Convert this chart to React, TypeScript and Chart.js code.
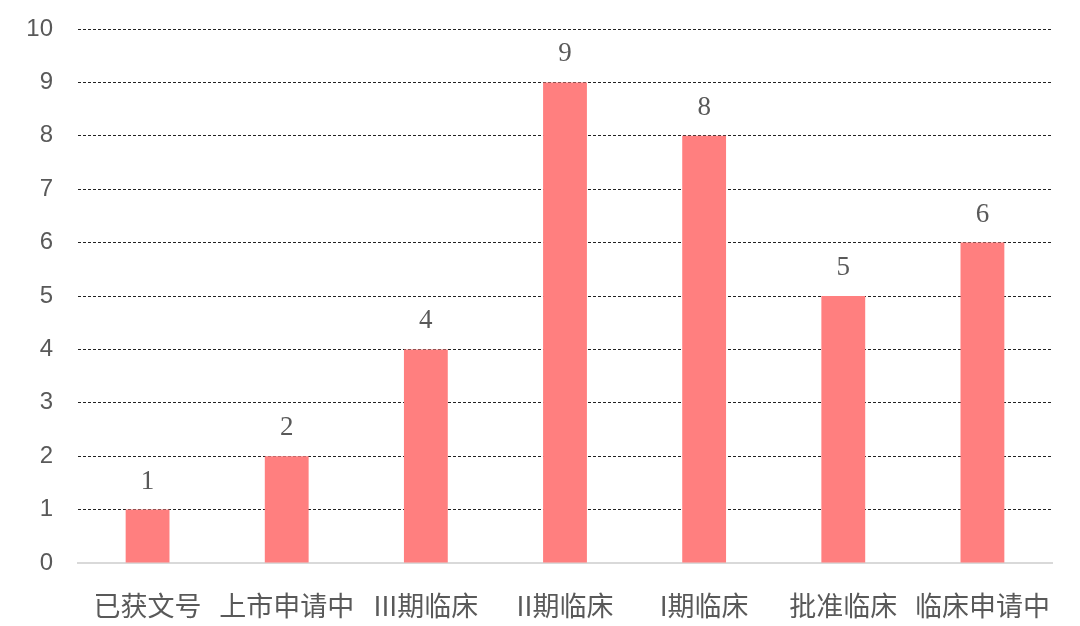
import React, { useRef, useEffect } from 'react';
import Chart from 'chart.js/auto';

const categories = ['已获文号', '上市申请中', 'III期临床', 'II期临床', 'I期临床', '批准临床', '临床申请中'];
const counts = [1, 2, 4, 9, 8, 5, 6];
const yTicks = [0, 1, 2, 3, 4, 5, 6, 7, 8, 9, 10];

const TEXT = '#595959';

// draws the value above each bar
const valueLabels = {
  id: 'valueLabels',
  afterDatasetsDraw(chart: any) {
    const ctx = chart.ctx;
    const meta = chart.getDatasetMeta(0);
    ctx.save();
    ctx.fillStyle = TEXT;
    ctx.font = '27px "Liberation Serif", serif';
    ctx.textAlign = 'center';
    ctx.textBaseline = 'alphabetic';
    meta.data.forEach((bar: any, i: number) => {
      ctx.fillText(String(counts[i]), bar.x, bar.y - 21);
    });
    ctx.restore();
  },
};

const App: React.FC = () => {
  const canvasRef = useRef<HTMLCanvasElement>(null);
  const chartRef = useRef<Chart | null>(null);

  useEffect(() => {
    if (!canvasRef.current) return;
    if (chartRef.current) chartRef.current.destroy();

    chartRef.current = new Chart(canvasRef.current, {
      type: 'bar',
      data: {
        labels: categories,
        datasets: [{
          data: counts,
          backgroundColor: '#FF7F7F',
          categoryPercentage: 1,
          barPercentage: 0.315,
        }],
      },
      options: {
        animation: false,
        responsive: true,
        maintainAspectRatio: false,
        layout: { padding: { top: 29, right: 28, left: 0, bottom: 0 } },
        plugins: {
          legend: { display: false },
          tooltip: { enabled: false },
        },
        scales: {
          x: {
            grid: { display: false, drawTicks: false },
            border: { display: true, color: '#d9d9d9', width: 2 },
            ticks: {
              color: TEXT,
              padding: 27,
              maxRotation: 0,
              autoSkip: false,
              font: { family: '"Noto Sans CJK SC", sans-serif', size: 27 },
            },
            afterFit: (scale: any) => {
              scale.height = 63;
              scale.paddingLeft = 0;
              scale.paddingRight = 0;
            },
          },
          y: {
            min: 0,
            max: 10,
            afterBuildTicks: (scale: any) => {
              scale.ticks = yTicks.map((v) => ({ value: v }));
            },
            grid: {
              drawTicks: false,
              color: (c: any) => (c.tick && c.tick.value === 0 ? 'rgba(0,0,0,0)' : '#222222'),
              lineWidth: 1,
            },
            border: { display: false, dash: [3, 2] },
            ticks: {
              color: TEXT,
              padding: 25,
              font: { family: '"Liberation Sans", Arial, sans-serif', size: 24 },
            },
            afterFit: (scale: any) => {
              scale.width = 78;
              scale.paddingTop = 0;
              scale.paddingBottom = 0;
            },
          },
        },
      },
      plugins: [valueLabels],
    });

    return () => {
      if (chartRef.current) {
        chartRef.current.destroy();
        chartRef.current = null;
      }
    };
  }, []);

  return (
    <div style={{ position: 'fixed', left: 0, top: 0, width: 1080, height: 626, background: '#fff' }}>
      <canvas ref={canvasRef} />
    </div>
  );
};

export default App;
